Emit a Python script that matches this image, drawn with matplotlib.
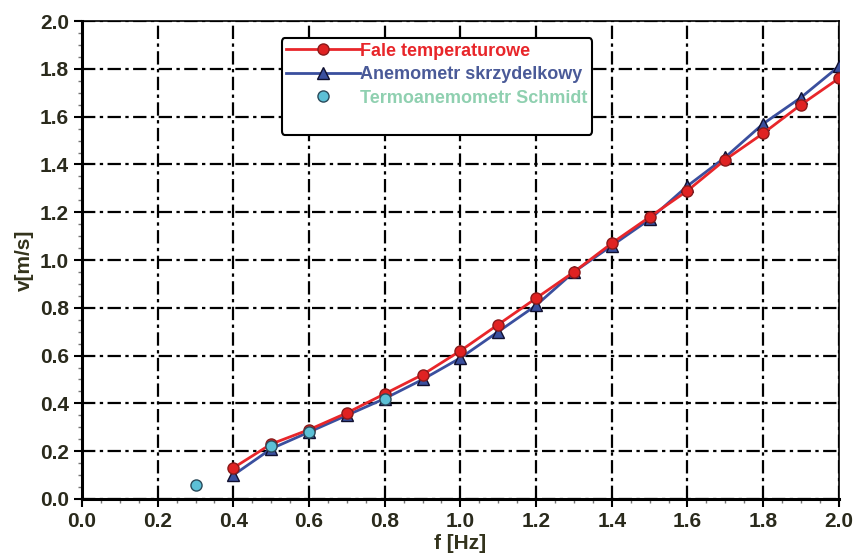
import matplotlib
matplotlib.use("Agg")
import matplotlib.pyplot as plt
from matplotlib.ticker import MultipleLocator
from matplotlib.lines import Line2D

# data
f_fale = [0.4, 0.5, 0.6, 0.7, 0.8, 0.9, 1.0, 1.1, 1.2, 1.3, 1.4, 1.5, 1.6, 1.7, 1.8, 1.9, 2.0]
v_fale = [0.13, 0.23, 0.29, 0.36, 0.44, 0.52, 0.62, 0.73, 0.84, 0.95, 1.07, 1.18, 1.29, 1.42, 1.53, 1.65, 1.76]

f_anem = [0.4, 0.5, 0.6, 0.7, 0.8, 0.9, 1.0, 1.1, 1.2, 1.3, 1.4, 1.5, 1.6, 1.7, 1.8, 1.9, 2.0]
v_anem = [0.10, 0.21, 0.28, 0.35, 0.42, 0.50, 0.59, 0.70, 0.81, 0.95, 1.06, 1.17, 1.31, 1.43, 1.57, 1.68, 1.81]

f_schmidt = [0.3, 0.5, 0.6, 0.8]
v_schmidt = [0.06, 0.22, 0.28, 0.42]

labels = ["Fale temperaturowe", "Anemometr skrzydelkowy", "Termoanemometr Schmidt"]
xticks = [0.0, 0.2, 0.4, 0.6, 0.8, 1.0, 1.2, 1.4, 1.6, 1.8, 2.0]

plt.rcParams['font.family'] = ['Liberation Sans', 'DejaVu Sans']
plt.rcParams['font.weight'] = 'bold'

fig = plt.figure(figsize=(8.58, 5.55), dpi=100)
ax = fig.add_axes([0.0956, 0.101, 0.882, 0.861])

red = "#e8262a"
blue = "#3a4f9e"

ax.plot(f_fale, v_fale, color=red, lw=2, marker='o', ms=8,
        mfc="#e02222", mec="#8a1a1a", mew=1, label=labels[0], zorder=4)
ax.plot(f_anem, v_anem, color=blue, lw=2, marker='^', ms=8,
        mfc=blue, mec="#101030", mew=1, label=labels[1], zorder=3)
ax.plot(f_schmidt, v_schmidt, ls='none', marker='o', ms=8,
        mfc="#5cc0d6", mec="#2a4a5a", mew=1, label=labels[2], zorder=5)

ax.set_xlim(0, 2.0)
ax.set_ylim(0, 2.0)
ax.set_xticks(xticks)
ax.set_yticks(xticks)
ax.xaxis.set_minor_locator(MultipleLocator(0.05))
ax.yaxis.set_minor_locator(MultipleLocator(0.05))
ax.xaxis.set_major_formatter(matplotlib.ticker.FormatStrFormatter('%.1f'))
ax.yaxis.set_major_formatter(matplotlib.ticker.FormatStrFormatter('%.1f'))

ax.grid(True, which='major', color='black', lw=1.6, ls=(0, (6, 2, 1.5, 2)))
ax.tick_params(which='major', direction='out', length=6, width=1.5,
               labelsize=15, labelcolor="#2a2a1c")
ax.tick_params(which='minor', direction='out', length=3, width=1, color='#777777')

for s in ['left', 'bottom']:
    ax.spines[s].set_linewidth(2.2)
for s in ['top', 'right']:
    ax.spines[s].set_linewidth(1.2)

ax.set_xlabel("f [Hz]", fontsize=15, fontweight='bold', color="#33331c", labelpad=2)
ax.set_ylabel("v[m/s]", fontsize=15, fontweight='bold', color="#33331c", labelpad=4)

handles, _ = ax.get_legend_handles_labels()
handles.append(Line2D([], [], ls='none'))
leg = ax.legend(handles, labels + [" "], loc='upper left', bbox_to_anchor=(0.264, 0.964),
                borderaxespad=0,
                prop={'size': 13, 'weight': 'bold'}, handlelength=4.1, handletextpad=0.0,
                labelspacing=0.36, borderpad=0.25, fancybox=True, framealpha=1,
                edgecolor='black')
leg.get_frame().set_linewidth(1.5)
for t, c in zip(leg.get_texts(), [red, "#4a5a98", "#8fd0b0"]):
    t.set_color(c)

fig.savefig("out.png", dpi=100)
